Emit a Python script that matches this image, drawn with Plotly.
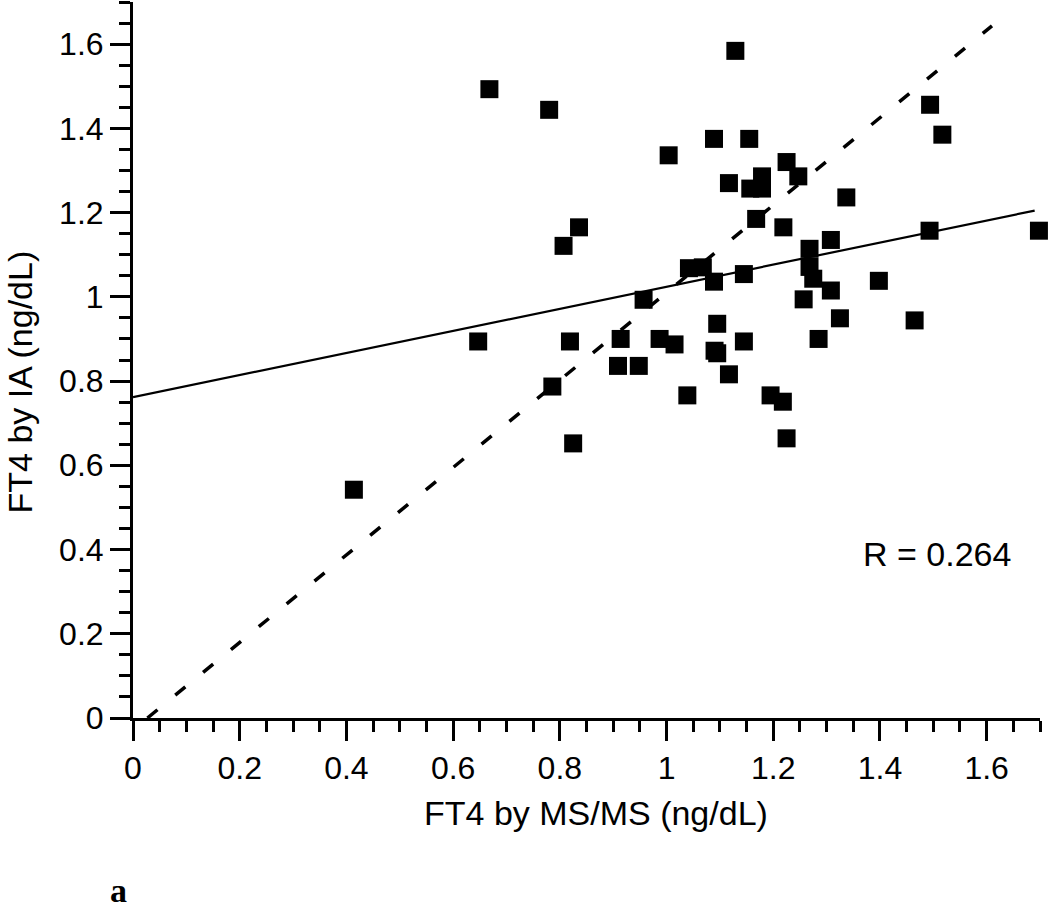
import plotly.graph_objects as go

# FT4 by MS/MS (x) vs FT4 by IA (y), ng/dL
ms_ms = [0.414, 0.647, 0.668, 0.780, 0.786, 0.807, 0.819, 0.825, 0.836, 0.909,
         0.914, 0.948, 0.957, 0.987, 1.004, 1.015, 1.039, 1.042, 1.068, 1.089,
         1.089, 1.090, 1.095, 1.095, 1.117, 1.117, 1.129, 1.145, 1.145, 1.155,
         1.157, 1.179, 1.179, 1.168, 1.195, 1.218, 1.219, 1.225, 1.225, 1.247,
         1.257, 1.268, 1.268, 1.275, 1.285, 1.308, 1.308, 1.325, 1.337, 1.398,
         1.465, 1.493, 1.494, 1.517, 1.698]
ia = [0.542, 0.894, 1.493, 1.444, 0.787, 1.121, 0.894, 0.652, 1.165, 0.836,
      0.900, 0.836, 0.993, 0.900, 1.336, 0.887, 0.766, 1.068, 1.070, 1.036,
      1.375, 0.872, 0.866, 0.936, 1.270, 0.816, 1.584, 1.054, 0.894, 1.375,
      1.257, 1.286, 1.257, 1.185, 0.766, 0.751, 1.165, 0.664, 1.320, 1.286,
      0.994, 1.114, 1.071, 1.043, 0.900, 1.135, 1.015, 0.949, 1.236, 1.038,
      0.944, 1.157, 1.456, 1.385, 1.157]

# Regression line (solid) and comparison line (dashed)
reg_intercept, reg_slope = 0.762, 0.262
reg_x = [0.0, 1.69]
cmp_intercept, cmp_slope = -0.028, 1.038
cmp_x = [0.027, 1.61]

r_label = "R = 0.264"
x_title = "FT4 by MS/MS (ng/dL)"
y_title = "FT4 by IA (ng/dL)"
panel_label = "a"

tick_vals = [0, 0.2, 0.4, 0.6, 0.8, 1.0, 1.2, 1.4, 1.6]
tick_text = ["0", "0.2", "0.4", "0.6", "0.8", "1", "1.2", "1.4", "1.6"]

FONT = "Liberation Sans, Arial, sans-serif"

fig = go.Figure()
fig.add_trace(go.Scatter(
    x=reg_x, y=[reg_intercept + reg_slope * v for v in reg_x],
    mode="lines", line=dict(color="black", width=2.2), showlegend=False,
    hoverinfo="skip"))
fig.add_trace(go.Scatter(
    x=cmp_x, y=[cmp_intercept + cmp_slope * v for v in cmp_x],
    mode="lines", line=dict(color="black", width=3.5, dash="13px,23px"),
    showlegend=False, hoverinfo="skip"))
fig.add_trace(go.Scatter(
    x=ms_ms, y=ia, mode="markers", cliponaxis=False,
    marker=dict(symbol="square", size=18, color="black", line=dict(width=0)),
    showlegend=False))

axis_common = dict(
    showgrid=False, zeroline=False, showline=True, linecolor="black",
    linewidth=3, ticks="outside", ticklen=20, tickwidth=3, tickcolor="black",
    tickvals=tick_vals, ticktext=tick_text,
    tickfont=dict(family=FONT, size=32, color="black"),
    minor=dict(dtick=0.05, tick0=0, ticks="outside", ticklen=11, tickwidth=3,
               tickcolor="black"),
    mirror=False,
)
fig.update_xaxes(range=[0, 1.7], **axis_common)
fig.update_yaxes(range=[0, 1.7], **axis_common)

fig.add_annotation(x=1.506, y=0.39, xref="x", yref="y", text=r_label,
                   showarrow=False, xanchor="center", yanchor="middle",
                   font=dict(family=FONT, size=34, color="black"))
fig.add_annotation(x=0.51, y=-0.1327, xref="paper", yref="paper", text=x_title,
                   showarrow=False, xanchor="center", yanchor="middle",
                   font=dict(family=FONT, size=34, color="black"))
fig.add_annotation(x=-0.1243, y=0.469, xref="paper", yref="paper", text=y_title,
                   textangle=-90, showarrow=False, xanchor="center",
                   yanchor="middle", borderpad=0,
                   font=dict(family=FONT, size=34, color="black"))
fig.add_annotation(x=-0.0276, y=-0.2416, xref="paper", yref="paper",
                   text="<b>" + panel_label + "</b>", showarrow=False,
                   xanchor="left", yanchor="middle",
                   font=dict(family="Liberation Serif, Times New Roman, serif",
                             size=34, color="black"))

fig.update_layout(
    width=1050, height=908,
    margin=dict(l=133, r=10, t=2, b=190),
    paper_bgcolor="white", plot_bgcolor="white",
    font=dict(family=FONT, color="black"),
)

fig.write_html("out.html",
               config={"displayModeBar": False},
               post_script="document.body.style.margin='0';"
                           "document.body.style.overflow='hidden';")
